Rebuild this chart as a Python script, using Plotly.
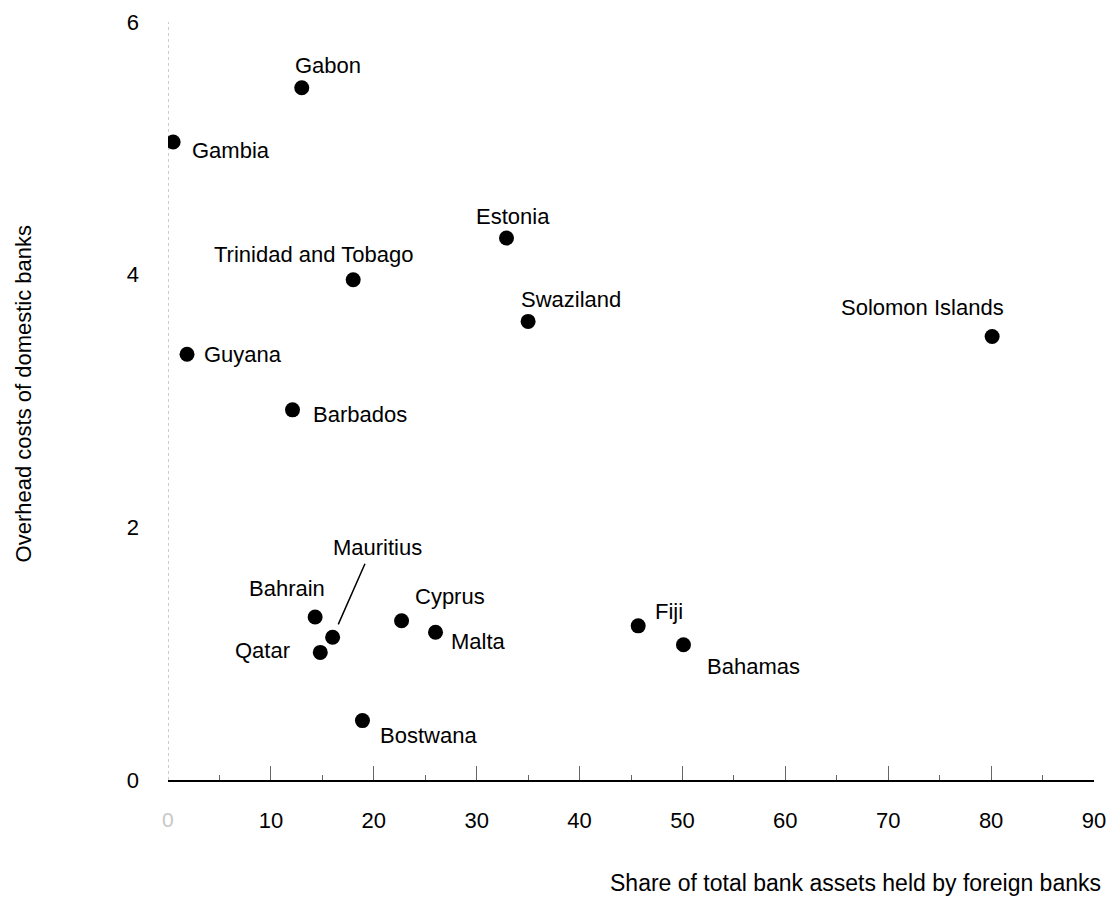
import plotly.graph_objects as go

countries = ["Gabon", "Gambia", "Estonia", "Trinidad and Tobago", "Swaziland",
             "Solomon Islands", "Guyana", "Barbados", "Bahrain", "Mauritius",
             "Qatar", "Cyprus", "Malta", "Fiji", "Bahamas", "Bostwana"]
foreign_share = [13.0, 0.5, 32.9, 18.0, 35.0, 80.1, 1.85, 12.1, 14.3, 16.0,
                 14.8, 22.7, 26.0, 45.7, 50.1, 18.9]
overhead = [5.48, 5.05, 4.29, 3.96, 3.63, 3.51, 3.37, 2.93, 1.29, 1.13,
            1.01, 1.26, 1.17, 1.22, 1.07, 0.47]

x_ticks = [10, 20, 30, 40, 50, 60, 70, 80, 90]
y_ticks = [0, 2, 4, 6]

# label placement (pixel offsets from each point, anchor)
label_pos = {
    "Gabon": (26, 22, "center"),
    "Gambia": (17, -8, "left"),
    "Estonia": (6, 22, "center"),
    "Trinidad and Tobago": (-40, 25, "center"),
    "Swaziland": (43, 22, "center"),
    "Solomon Islands": (-70, 29, "center"),
    "Guyana": (15, 0, "left"),
    "Barbados": (18, -5, "left"),
    "Bahrain": (-28, 29, "center"),
    "Mauritius": (45, 90, "center"),
    "Qatar": (-58, 2, "center"),
    "Cyprus": (11, 24, "left"),
    "Malta": (13, -9, "left"),
    "Fiji": (15, 14, "left"),
    "Bahamas": (22, -22, "left"),
    "Bostwana": (16, -15, "left"),
}

FONT = "Liberation Sans, Arial, sans-serif"

fig = go.Figure()

# dotted y axis line
fig.add_shape(type="line", xref="x", yref="y", x0=0, x1=0, y0=0, y1=6,
              line=dict(color="#9a9a9a", width=1, dash="dot"), layer="below")

fig.add_trace(go.Scatter(
    x=foreign_share, y=overhead, mode="markers",
    marker=dict(color="black", size=15),
    hoverinfo="skip", showlegend=False,
))

for name, xv, yv in zip(countries, foreign_share, overhead):
    dx, dy, anchor = label_pos[name]
    fig.add_annotation(x=xv, y=yv, xref="x", yref="y", text=name,
                       showarrow=False, xshift=dx, yshift=dy,
                       xanchor=anchor, yanchor="middle",
                       font=dict(family=FONT, size=22, color="black"))

# Mauritius leader line
i = countries.index("Mauritius")
fig.add_annotation(x=foreign_share[i], y=overhead[i], xref="x", yref="y",
                   ax=33, ay=-75, axref="pixel", ayref="pixel",
                   text="", showarrow=True, arrowhead=0, arrowwidth=1.5,
                   arrowcolor="black", standoff=14)

# faint zero label on the x axis
fig.add_annotation(x=0, y=0, xref="x", yref="y", text="0", showarrow=False,
                   yshift=-39, font=dict(family=FONT, size=21, color="#c8c8c8"))

# axis titles
fig.add_annotation(x=1.0, y=0, xref="paper", yref="paper", xanchor="right",
                   yanchor="middle", text="Share of total bank assets held by foreign banks",
                   showarrow=False, xshift=9, yshift=-103,
                   font=dict(family=FONT, size=23, color="black"))
fig.add_annotation(x=0, y=0.51, xref="paper", yref="paper", xanchor="center",
                   yanchor="middle", text="Overhead costs of domestic banks",
                   textangle=-90, showarrow=False, xshift=-145,
                   font=dict(family=FONT, size=22, color="black"))

fig.update_layout(
    width=1114, height=898,
    margin=dict(l=160, r=28, t=14, b=126),
    paper_bgcolor="white", plot_bgcolor="white",
    xaxis=dict(range=[0, 90], tickvals=x_ticks, showgrid=False, zeroline=False,
               automargin=False,
               showline=True, linecolor="black", linewidth=2,
               ticks="inside", ticklen=14, tickcolor="#666", tickwidth=1,
               minor=dict(ticks="inside", ticklen=5, dtick=5, tickcolor="#666", tickwidth=1),
               ticklabelstandoff=20,
               tickfont=dict(family=FONT, size=22, color="black")),
    yaxis=dict(range=[0, 6], tickvals=y_ticks, showgrid=False, zeroline=False,
               automargin=False,
               showline=False, ticks="", ticklabelstandoff=28,
               tickfont=dict(family=FONT, size=22, color="black")),
)

fig.write_html("out.html")
